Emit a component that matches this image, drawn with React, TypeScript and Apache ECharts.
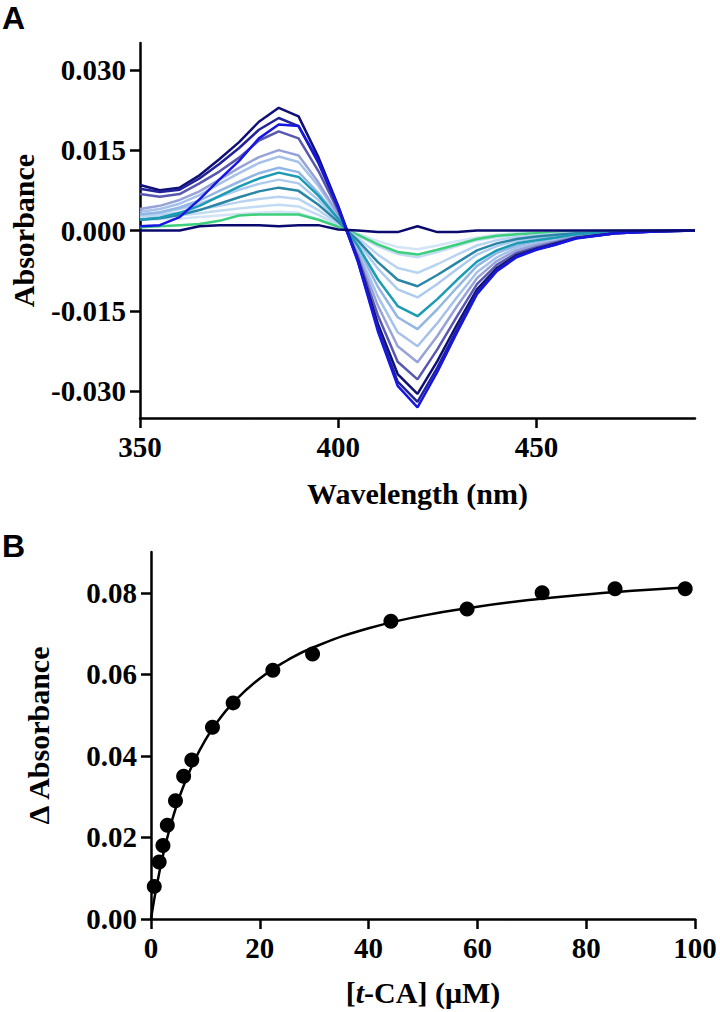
import React, { useEffect, useRef } from "react";
import * as echarts from "echarts";

// ---------- Panel A: difference spectra ----------
const wavelengths = [350, 355, 360, 365, 370, 375, 380, 385, 390, 395, 400, 405, 410, 415, 420, 425, 430, 435, 440, 445, 450, 455, 460, 470, 480, 490];

const specPale = [0.002, 0.0021, 0.0022, 0.0025, 0.0028, 0.0031, 0.0033, 0.0035, 0.0033, 0.0021, 0.0007, -0.0006, -0.002, -0.0031, -0.0035, -0.0028, -0.002, -0.0013, -0.0008, -0.0005, -0.0004, -0.0003, -0.0002, 0, 0, 0];
const specLight5 = [0.0025, 0.0026, 0.0028, 0.0032, 0.0037, 0.0041, 0.0045, 0.0048, 0.0045, 0.0029, 0.001, -0.0009, -0.0029, -0.0044, -0.005, -0.004, -0.0029, -0.0018, -0.0012, -0.0008, -0.0006, -0.0004, -0.0002, -0.0001, 0, 0];
const specGreen = [0.0006, 0.0008, 0.001, 0.0012, 0.0018, 0.0028, 0.003, 0.003, 0.003, 0.002, 0.0007, -0.0008, -0.0026, -0.004, -0.0045, -0.0036, -0.0026, -0.0016, -0.001, -0.0007, -0.0005, -0.0004, -0.0002, -0.0001, 0, 0];
const specLight4 = [0.0028, 0.003, 0.0033, 0.0039, 0.0046, 0.0053, 0.0059, 0.0063, 0.0059, 0.0038, 0.0013, -0.0014, -0.0045, -0.007, -0.0079, -0.0063, -0.0045, -0.0028, -0.0018, -0.0012, -0.0009, -0.0006, -0.0004, -0.0001, 0, 0];
const specLight3 = [0.003, 0.0033, 0.004, 0.005, 0.0063, 0.0076, 0.0087, 0.0095, 0.0088, 0.0057, 0.0019, -0.0023, -0.0071, -0.011, -0.0125, -0.01, -0.0072, -0.0045, -0.0029, -0.0019, -0.0014, -0.001, -0.0006, -0.0002, 0, 0];
const specLight2 = [0.003, 0.0034, 0.0043, 0.0056, 0.0074, 0.0091, 0.0107, 0.0117, 0.0109, 0.007, 0.0023, -0.0033, -0.0105, -0.0162, -0.0184, -0.0147, -0.0106, -0.0066, -0.0042, -0.0028, -0.002, -0.0015, -0.0008, -0.0003, -0.0001, 0];
const specLight1 = [0.0035, 0.004, 0.005, 0.0066, 0.0087, 0.0107, 0.0126, 0.0138, 0.0128, 0.0083, 0.0028, -0.0039, -0.0123, -0.019, -0.0216, -0.0173, -0.0124, -0.0078, -0.005, -0.0032, -0.0024, -0.0017, -0.001, -0.0003, -0.0001, 0];
const specLavender = [0.004, 0.0046, 0.0057, 0.0073, 0.0095, 0.0117, 0.0137, 0.015, 0.014, 0.009, 0.003, -0.0044, -0.014, -0.0216, -0.0246, -0.0197, -0.0141, -0.0089, -0.0057, -0.0037, -0.0027, -0.002, -0.0011, -0.0004, -0.0001, 0];
const specTeal2 = [0.002, 0.0023, 0.0029, 0.0038, 0.005, 0.0062, 0.0073, 0.008, 0.0074, 0.0048, 0.0016, -0.0019, -0.0059, -0.0092, -0.0104, -0.0083, -0.006, -0.0037, -0.0024, -0.0016, -0.0011, -0.0008, -0.0005, -0.0002, 0, 0];
const specTeal = [0.002, 0.0024, 0.0033, 0.0046, 0.0064, 0.0082, 0.0097, 0.0108, 0.01, 0.0065, 0.0022, -0.0029, -0.0091, -0.0141, -0.016, -0.0128, -0.0092, -0.0058, -0.0037, -0.0024, -0.0018, -0.0013, -0.0007, -0.0002, -0.0001, 0];
const specPurple = [0.0068, 0.0063, 0.0068, 0.0088, 0.011, 0.0136, 0.0168, 0.0185, 0.0172, 0.0111, 0.0037, -0.005, -0.0158, -0.0245, -0.0278, -0.0222, -0.016, -0.01, -0.0064, -0.0042, -0.0031, -0.0022, -0.0013, -0.0004, -0.0001, 0];
const specNavy1 = [0.0085, 0.0075, 0.008, 0.0103, 0.0133, 0.0165, 0.0203, 0.0229, 0.0213, 0.0137, 0.0046, -0.0055, -0.0174, -0.0268, -0.0305, -0.0244, -0.0175, -0.011, -0.007, -0.0046, -0.0034, -0.0024, -0.0014, -0.0005, -0.0002, 0];
const specNavy2 = [0.0078, 0.0072, 0.0076, 0.0097, 0.0124, 0.0154, 0.0188, 0.021, 0.0195, 0.0126, 0.0042, -0.0058, -0.0182, -0.0282, -0.032, -0.0256, -0.0184, -0.0115, -0.0074, -0.0048, -0.0035, -0.0026, -0.0014, -0.0005, -0.0002, 0];
const specBlue = [0.0008, 0.001, 0.0025, 0.0058, 0.0095, 0.013, 0.0172, 0.0198, 0.0195, 0.013, 0.0044, -0.0059, -0.0188, -0.029, -0.033, -0.0264, -0.019, -0.0119, -0.0076, -0.005, -0.0036, -0.0026, -0.0015, -0.0005, -0.0002, 0];
const specBase = [0, 0, 0, 0.0008, 0.001, 0.001, 0.001, 0.0008, 0.001, 0.001, 0.0002, 0, -0.0003, -0.0003, 0.0008, -0.0003, -0.0003, 0, 0, 0, 0, 0, 0, 0, 0, 0];

const spectra = [
  { data: specPale, color: "#d2e4f6" },
  { data: specLight5, color: "#c4dcf3" },
  { data: specGreen, color: "#3ccf7c" },
  { data: specLight4, color: "#b9d4f1" },
  { data: specLight3, color: "#adcbee" },
  { data: specLight2, color: "#93b7e4" },
  { data: specLight1, color: "#a6c2ea" },
  { data: specLavender, color: "#97a3d8" },
  { data: specTeal2, color: "#2a86a6" },
  { data: specTeal, color: "#1c9cb4" },
  { data: specPurple, color: "#5858b0" },
  { data: specNavy1, color: "#0f0f78" },
  { data: specNavy2, color: "#22229a" },
  { data: specBlue, color: "#1616e2" },
  { data: specBase, color: "#0a0a6e" },
];

const aXTicks = [350, 400, 450];
const aYTicks = [-0.03, -0.015, 0, 0.015, 0.03];

// ---------- Panel B: titration ----------
const concentrations = [0.6, 1.5, 2.2, 3.0, 4.5, 6.0, 7.5, 11.3, 15.1, 22.4, 29.7, 44.1, 58.1, 71.9, 85.3, 98.2];
const deltaAbs = [0.008, 0.014, 0.018, 0.023, 0.029, 0.035, 0.039, 0.047, 0.053, 0.061, 0.065, 0.073, 0.076, 0.08, 0.081, 0.081];
const fitX = [0, 0.5, 1, 2, 3, 4, 5, 6, 8, 10, 12, 15, 20, 25, 30, 40, 50, 60, 70, 80, 90, 98];
const fitY = [0, 0.0041, 0.0078, 0.0144, 0.02, 0.0248, 0.029, 0.0327, 0.0389, 0.0439, 0.048, 0.0529, 0.059, 0.0634, 0.0667, 0.0713, 0.0744, 0.0766, 0.0783, 0.0796, 0.0806, 0.0813];
const bYTicks = [0, 0.02, 0.04, 0.06, 0.08];

const serif = "'Liberation Serif', 'Times New Roman', serif";
const sans = "'Liberation Sans', Arial, sans-serif";

const axisLine = { show: true, onZero: false, lineStyle: { color: "#000", width: 2.5 } };
const labelStyle = { color: "#000", fontFamily: serif, fontWeight: "bold" as const, fontSize: 29 };
const nameStyle = { color: "#000", fontFamily: serif, fontWeight: "bold" as const, fontSize: 30 };

export default function App() {
  const ref = useRef<HTMLDivElement>(null);
  useEffect(() => {
    if (!ref.current) return;
    const chart = echarts.init(ref.current, null, { renderer: "svg" });
    const option: any = {
      animation: false,
      backgroundColor: "#fff",
      grid: [
        { left: 139, top: 43, width: 556, height: 375 },
        { left: 151, top: 552, width: 544, height: 367 },
      ],
      xAxis: [
        {
          gridIndex: 0,
          type: "value",
          min: 350,
          max: 490,
          axisLine,
          axisTick: { show: true, inside: false, length: 10, lineStyle: { color: "#000", width: 2.5 }, customValues: aXTicks },
          axisLabel: { ...labelStyle, margin: 14, customValues: aXTicks },
          splitLine: { show: false },
          name: "Wavelength (nm)",
          nameLocation: "middle",
          nameGap: 60,
          nameTextStyle: nameStyle,
        },
        {
          gridIndex: 1,
          type: "value",
          min: 0,
          max: 100,
          interval: 20,
          axisLine,
          axisTick: { show: true, length: 10, lineStyle: { color: "#000", width: 2.5 } },
          axisLabel: { ...labelStyle, margin: 14 },
          splitLine: { show: false },
          name: "{p|[}{i|t}{p|-CA] (μM)}",
          nameLocation: "middle",
          nameGap: 58,
          nameTextStyle: {
            ...nameStyle,
            rich: {
              p: { ...nameStyle },
              i: { ...nameStyle, fontStyle: "italic" },
            },
          },
        },
      ],
      yAxis: [
        {
          gridIndex: 0,
          type: "value",
          min: -0.035,
          max: 0.035,
          axisLine,
          axisTick: { show: true, length: 10, lineStyle: { color: "#000", width: 2.5 }, customValues: aYTicks },
          axisLabel: { ...labelStyle, margin: 14, customValues: aYTicks, formatter: (v: number) => v.toFixed(3) },
          splitLine: { show: false },
          name: "Absorbance",
          nameLocation: "middle",
          nameRotate: 90,
          nameGap: 102,
          nameTextStyle: nameStyle,
        },
        {
          gridIndex: 1,
          type: "value",
          min: 0,
          max: 0.09,
          axisLine,
          axisTick: { show: true, length: 10, lineStyle: { color: "#000", width: 2.5 }, customValues: bYTicks },
          axisLabel: { ...labelStyle, margin: 14, customValues: bYTicks, formatter: (v: number) => v.toFixed(2) },
          splitLine: { show: false },
          name: "Δ Absorbance",
          nameLocation: "middle",
          nameRotate: 90,
          nameGap: 98,
          nameTextStyle: nameStyle,
        },
      ],
      graphic: [
        { type: "text", left: 2, top: 2, style: { text: "A", font: `bold 32px ${sans}`, fill: "#000" } },
        { type: "text", left: 2, top: 530, style: { text: "B", font: `bold 32px ${sans}`, fill: "#000" } },
      ],
      series: [
        ...spectra.map((s) => ({
          type: "line",
          xAxisIndex: 0,
          yAxisIndex: 0,
          showSymbol: false,
          symbol: "none",
          silent: true,
          lineStyle: { color: s.color, width: 2.5 },
          data: wavelengths.map((w, i) => [w, s.data[i]]),
        })),
        {
          type: "line",
          xAxisIndex: 1,
          yAxisIndex: 1,
          showSymbol: false,
          symbol: "none",
          smooth: true,
          lineStyle: { color: "#000", width: 2.5 },
          data: fitX.map((x, i) => [x, fitY[i]]),
        },
        {
          type: "scatter",
          xAxisIndex: 1,
          yAxisIndex: 1,
          symbol: "circle",
          symbolSize: 15,
          itemStyle: { color: "#000", opacity: 1 },
          data: concentrations.map((x, i) => [x, deltaAbs[i]]),
        },
      ],
    };
    chart.setOption(option);
    return () => chart.dispose();
  }, []);
  return (
    <div
      ref={ref}
      style={{ position: "absolute", left: 0, top: 0, width: 720, height: 1012, background: "#fff" }}
    />
  );
}
